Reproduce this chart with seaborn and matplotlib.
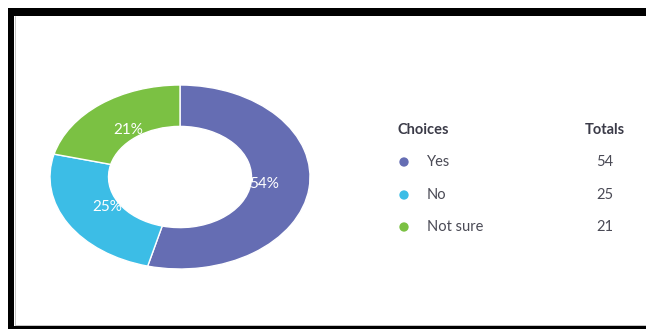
import matplotlib
matplotlib.use("Agg")
import matplotlib.pyplot as plt
from matplotlib.patches import Rectangle
import seaborn as sns

choices = ["Yes", "No", "Not sure"]
totals = [54, 25, 21]
colors = ["#656db3", "#3cbde6", "#7bc143"]
header_choices = "Choices"
header_totals = "Totals"

sns.set_theme(style="white")
plt.rcParams["font.family"] = ["Lato", "DejaVu Sans"]

W, H = 646, 329
fig = plt.figure(figsize=(W / 100, H / 100), dpi=100)
fig.patch.set_facecolor("white")

# pie axes placed in pixel box (stretched ellipse as in reference)
cx0, cx1, cy0, cy1 = 50, 310, 85, 269
ax = fig.add_axes([cx0 / W, 1 - cy1 / H, (cx1 - cx0) / W, (cy1 - cy0) / H])
wedges, texts, autotexts = ax.pie(
    totals, colors=colors, startangle=90, counterclock=False,
    autopct="%1.0f%%", pctdistance=0.65,
    wedgeprops=dict(width=0.45, edgecolor="white", linewidth=1),
    textprops=dict(color="white", fontsize=11),
)
ax.set_aspect("auto")
ax.set_xlim(-1, 1)
ax.set_ylim(-1, 1)
ax.axis("off")

# overlay axes in pixel coordinates for legend table and frame
ov = fig.add_axes([0, 0, 1, 1], zorder=2)
ov.patch.set_alpha(0)

# frame bands
ov.add_patch(Rectangle((8, 8), W - 8, 8, color="black", lw=0))
ov.add_patch(Rectangle((8, 8), 6, H - 8, color="black", lw=0))
ov.add_patch(Rectangle((8, 325.5), W - 8, 4, color="black", lw=0))
ov.plot([14.5, 14.5], [16, 325], color="#bbbbbb", lw=0.6)
ov.plot([14.5, W], [325, 325], color="#bbbbbb", lw=0.6)

# legend table
hdr_col = "#3b3b48"
row_col = "#4a4a55"
fs = 10.5
ov.text(398, 130, header_choices, ha="left", va="center", fontsize=fs,
        fontweight="bold", color=hdr_col)
ov.text(605, 130, header_totals, ha="center", va="center", fontsize=fs,
        fontweight="bold", color=hdr_col)
row_y = [162, 195, 227]
sns.scatterplot(x=[404] * len(choices), y=row_y, hue=choices, palette=colors,
                s=45, edgecolor="none", legend=False, ax=ov)
for name, tot, y in zip(choices, totals, row_y):
    ov.text(427, y, name, ha="left", va="center", fontsize=fs, color=row_col)
    ov.text(605, y, str(tot), ha="center", va="center", fontsize=fs, color=row_col)
ov.set_xlim(0, W)
ov.set_ylim(H, 0)
ov.axis("off")

fig.savefig("out.png", dpi=100, facecolor="white")
